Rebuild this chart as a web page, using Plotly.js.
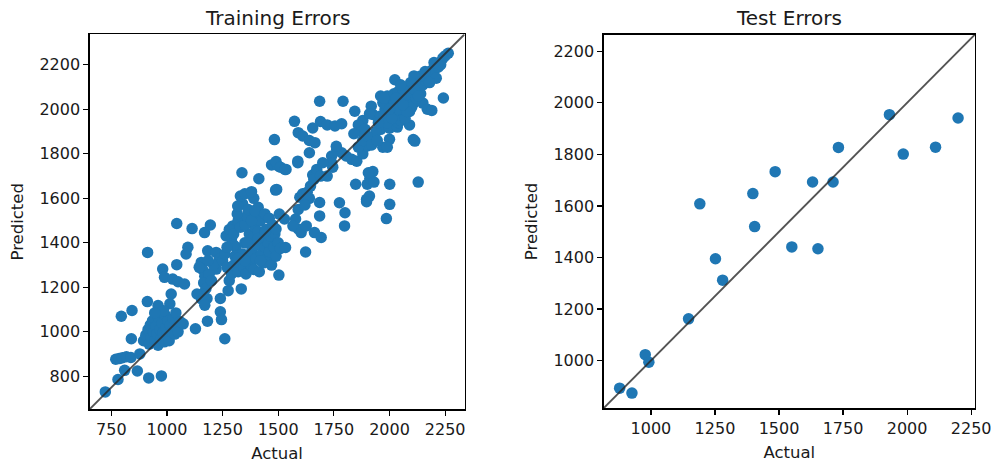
<!DOCTYPE html>
<html>
<head>
<meta charset="utf-8">
<script src="https://cdn.plot.ly/plotly-3.0.1.min.js"></script>
<style>
  html, body { margin: 0; padding: 0; background: #ffffff; }
  #chart { width: 996px; height: 468px; }
</style>
</head>
<body>
<div id="chart"></div>
<script>
// Training set: [actual, predicted] pairs
const trainPairs = [
  [723,730],[780,786],[810,827],[867,824],[918,793],[975,802],
  [770,877],[785,880],[800,884],[818,888],[838,885],[878,901],
  [795,1070],[843,1096],[840,969],[908,969],[912,1136],[913,1357],
  [895,960],[905,985],[915,1010],[920,945],[925,1030],[930,975],[935,1050],[940,1000],
  [945,960],[950,1025],[955,990],[960,940],[962,1065],[968,1010],[972,970],[978,1040],
  [982,995],[988,955],[992,1075],[996,1020],[1000,985],[1005,1050],[1010,960],[1015,1030],
  [1022,1000],[1028,1060],[1035,990],[1045,1020],[1050,1000],[960,1118],[1013,1126],
  [1073,1036],[985,1095],[945,1085],[1040,1085],[1060,1045],
  [981,1282],[989,1245],[1044,1302],[1026,1237],[1050,1225],[1079,1215],[1019,1170],
  [1044,1487],[1094,1380],[1086,1350],[1113,1464],[1169,1446],[1195,1480],[1183,1364],
  [1221,1357],[1154,1312],[1236,1327],[1221,1282],[1266,1431],[1296,1476],
  [1160,1280],[1170,1250],[1165,1220],[1175,1195],[1160,1170],[1180,1150],[1155,1148],
  [1135,1170],[1170,1120],[1190,1260],[1200,1230],[1210,1300],[1185,1320],[1145,1290],
  [1128,1014],[1182,1048],[1240,1090],[1245,1055],[1260,969],[1275,1185],[1240,1150],
  [1250,1320],[1260,1350],[1270,1290],[1280,1230],[1290,1260],[1300,1300],[1305,1340],
  [1310,1380],[1320,1270],[1330,1310],[1334,1193],[1340,1350],[1345,1290],[1350,1400],
  [1355,1260],[1360,1330],[1370,1440],[1375,1300],[1380,1360],[1385,1420],[1390,1280],
  [1395,1470],[1400,1330],[1405,1390],[1410,1450],[1415,1270],[1420,1500],[1425,1350],
  [1430,1410],[1435,1310],[1440,1380],[1445,1460],[1450,1330],[1455,1400],[1460,1360],
  [1465,1430],[1470,1300],[1475,1480],[1480,1380],[1485,1440],[1490,1340],[1500,1400],
  [1503,1255],[1510,1375],[1290,1420],[1280,1460],[1300,1440],[1320,1500],[1330,1470],
  [1350,1480],[1360,1520],[1380,1500],[1400,1540],[1410,1560],[1390,1600],[1316,1530],
  [1340,1575],[1330,1610],[1350,1620],[1380,1630],[1318,1565],[1365,1550],[1395,1545],
  [1320,1330],[1360,1400],[1410,1420],[1440,1450],[1300,1390],[1270,1380],[1350,1320],
  [1420,1320],
  [1337,1715],[1413,1688],[1488,1637],[1470,1750],[1500,1745],[1535,1730],[1588,1760],
  [1597,1605],[1610,1620],[1505,1529],[1528,1507],[1490,1462],[1578,1507],[1590,1462],
  [1566,1476],[1603,1446],[1663,1446],[1693,1424],[1626,1476],[1533,1379],[1623,1359],
  [1440,1530],[1460,1510],
  [1483,1864],[1573,1946],[1655,1916],[1690,1945],[1720,1930],[1755,1925],[1785,1935],
  [1590,1895],[1610,1880],[1640,1860],[1665,1850],[1686,2036],[1791,2036],[1844,1991],
  [1925,1977],[1640,1805],[1763,1820],[1785,1805],[1805,1790],[1830,1775],[1853,1767],
  [1740,1790],[1880,1800],[1900,1835],[1925,1870],[1490,1765],[1510,1740],[1530,1730],
  [1588,1767],[1655,1705],[1673,1730],[1745,1740],[1493,1640],[1630,1627],[1645,1655],
  [1660,1685],[1848,1663],[1900,1663],[1912,1690],[1925,1720],[1897,1596],[1910,1610],
  [1775,1580],[1800,1535],[1686,1521],[1798,1476],[1590,1550],[1640,1600],[1620,1570],
  [1686,1581],[1720,1700],[1740,1760],[1700,1760],[1690,1700],
  [2264,2252],[2240,2230],[2225,2210],[2205,2195],[2190,2175],[2170,2160],[2150,2140],
  [2135,2120],[2115,2105],[2100,2090],[2080,2070],[2060,2050],[2045,2030],[2030,2010],
  [2015,1995],[2000,1980],[2024,2133],[2242,2051],[2150,2028],[2170,2000],[2190,1995],
  [2107,1864],[1918,2014],[1880,1950],[1910,1980],[1960,1910],[2000,1915],[2035,1920],
  [2040,1940],[2090,1990],[2090,1930],[1970,1830],[2000,1865],[2114,1857],[2129,1673],
  [2001,1663],[1930,1673],[1905,1715],[1897,1585],[2001,1573],[1986,1509],
  [1990,2060],[2010,2040],[2020,2070],[2040,2080],[2050,2000],[2060,1980],[2070,2020],
  [2080,2040],[2100,2060],[2110,2030],[2120,2080],[2130,2100],[2140,2070],[2150,2110],
  [2160,2130],[2180,2150],[2200,2170],[2210,2140],[2220,2190],[2230,2200],[2250,2240],
  [2000,2020],[1980,2000],[1960,1970],[2030,1960],[2050,1950],[2070,1960],[2100,2010],
  [2020,1990],[1990,1940],[1940,1900],[1960,2060],[2080,2100],[2140,2150],[2160,2170],
  [2110,2150],[2095,2120],[2180,2120],[2200,2210],
  [1970,2030],[2010,1960],[2040,2000],[2060,2090],[2080,1990],[2120,2050],[2000,2000],
  [2030,2050],[1950,1940],[2060,2020],[2110,2090],[2130,2060],[1975,2050],[2050,2110],
  [1860,1830],[1880,1860],[1900,1880],[1920,1840],[1945,1860],[1990,1830],[1860,1930],
  [1875,1900],[1890,1910],[1840,1890],[1761,1834]
];
const trainActual = trainPairs.map(p => p[0]);
const trainPredicted = trainPairs.map(p => p[1]);

// Test set
const testActual    = [878, 926, 978, 992, 1147, 1191, 1252, 1280, 1398, 1405, 1485, 1550, 1631, 1652, 1711, 1732, 1931, 1985, 2111, 2199];
const testPredicted = [893, 874, 1023, 994, 1162, 1608, 1395, 1312, 1648, 1520, 1733, 1441, 1693, 1434, 1693, 1827, 1954, 1801, 1828, 1941];

// Shared limits for each panel (also the ends of the y = x reference line)
const trainLimits = [652, 2337];
const testLimits = [815, 2265];

const trainTicksX = [750, 1000, 1250, 1500, 1750, 2000, 2250];
const trainTicksY = [800, 1000, 1200, 1400, 1600, 1800, 2000, 2200];
const testTicksX = [1000, 1250, 1500, 1750, 2000, 2250];
const testTicksY = [1000, 1200, 1400, 1600, 1800, 2000, 2200];

const FONT = 'DejaVu Sans, Verdana, sans-serif';
const TEXT = '#1a1a1a';
const BLUE = '#1f77b4';
const LINE = 'rgba(40,40,40,0.8)';

function axis(domain, range, ticks, title, anchor, standoff) {
  return {
    domain: domain,
    range: range,
    anchor: anchor,
    tickmode: 'array',
    tickvals: ticks,
    ticks: 'outside',
    ticklen: 5,
    tickwidth: 1.2,
    tickcolor: '#000',
    showline: true,
    mirror: true,
    linecolor: '#000',
    linewidth: 1.2,
    showgrid: false,
    zeroline: false,
    fixedrange: true,
    tickfont: { family: FONT, size: 16, color: TEXT },
    title: { text: title, font: { family: FONT, size: 16.5, color: TEXT }, standoff: standoff }
  };
}

const data = [
  { type: 'scatter', mode: 'markers', x: trainActual, y: trainPredicted, xaxis: 'x', yaxis: 'y',
    marker: { color: BLUE, size: 11.5, line: { width: 0 } }, hoverinfo: 'skip' },
  { type: 'scatter', mode: 'lines', x: trainLimits, y: trainLimits, xaxis: 'x', yaxis: 'y',
    line: { color: LINE, width: 1.9 }, hoverinfo: 'skip' },
  { type: 'scatter', mode: 'markers', x: testActual, y: testPredicted, xaxis: 'x2', yaxis: 'y2',
    marker: { color: BLUE, size: 11.5, line: { width: 0 } }, hoverinfo: 'skip' },
  { type: 'scatter', mode: 'lines', x: testLimits, y: testLimits, xaxis: 'x2', yaxis: 'y2',
    line: { color: LINE, width: 1.9 }, hoverinfo: 'skip' }
];

const leftX = [89.5 / 996, 464.5 / 996];
const rightX = [603.5 / 996, 975 / 996];
const leftY = [1 - 409.3 / 468, 1 - 34.3 / 468];
const rightY = [1 - 408.3 / 468, 1 - 34.5 / 468];

const layout = {
  width: 996,
  height: 468,
  margin: { l: 0, r: 0, t: 0, b: 0 },
  paper_bgcolor: '#ffffff',
  plot_bgcolor: '#ffffff',
  showlegend: false,
  font: { family: FONT, color: TEXT },
  xaxis: axis(leftX, trainLimits, trainTicksX, 'Actual', 'y', 9),
  yaxis: axis(leftY, trainLimits, trainTicksY, 'Predicted', 'x', 11),
  xaxis2: axis(rightX, testLimits, testTicksX, 'Actual', 'y2', 9),
  yaxis2: axis(rightY, testLimits, testTicksY, 'Predicted', 'x2', 11),
  annotations: [
    { text: 'Training Errors', xref: 'paper', yref: 'paper', x: (leftX[0] + leftX[1]) / 2, y: 1 - 18 / 468,
      xanchor: 'center', yanchor: 'middle', showarrow: false, font: { family: FONT, size: 20, color: TEXT } },
    { text: 'Test Errors', xref: 'paper', yref: 'paper', x: (rightX[0] + rightX[1]) / 2, y: 1 - 18 / 468,
      xanchor: 'center', yanchor: 'middle', showarrow: false, font: { family: FONT, size: 20, color: TEXT } }
  ]
};

Plotly.newPlot('chart', data, layout, { staticPlot: true, displayModeBar: false });
</script>
</body>
</html>
